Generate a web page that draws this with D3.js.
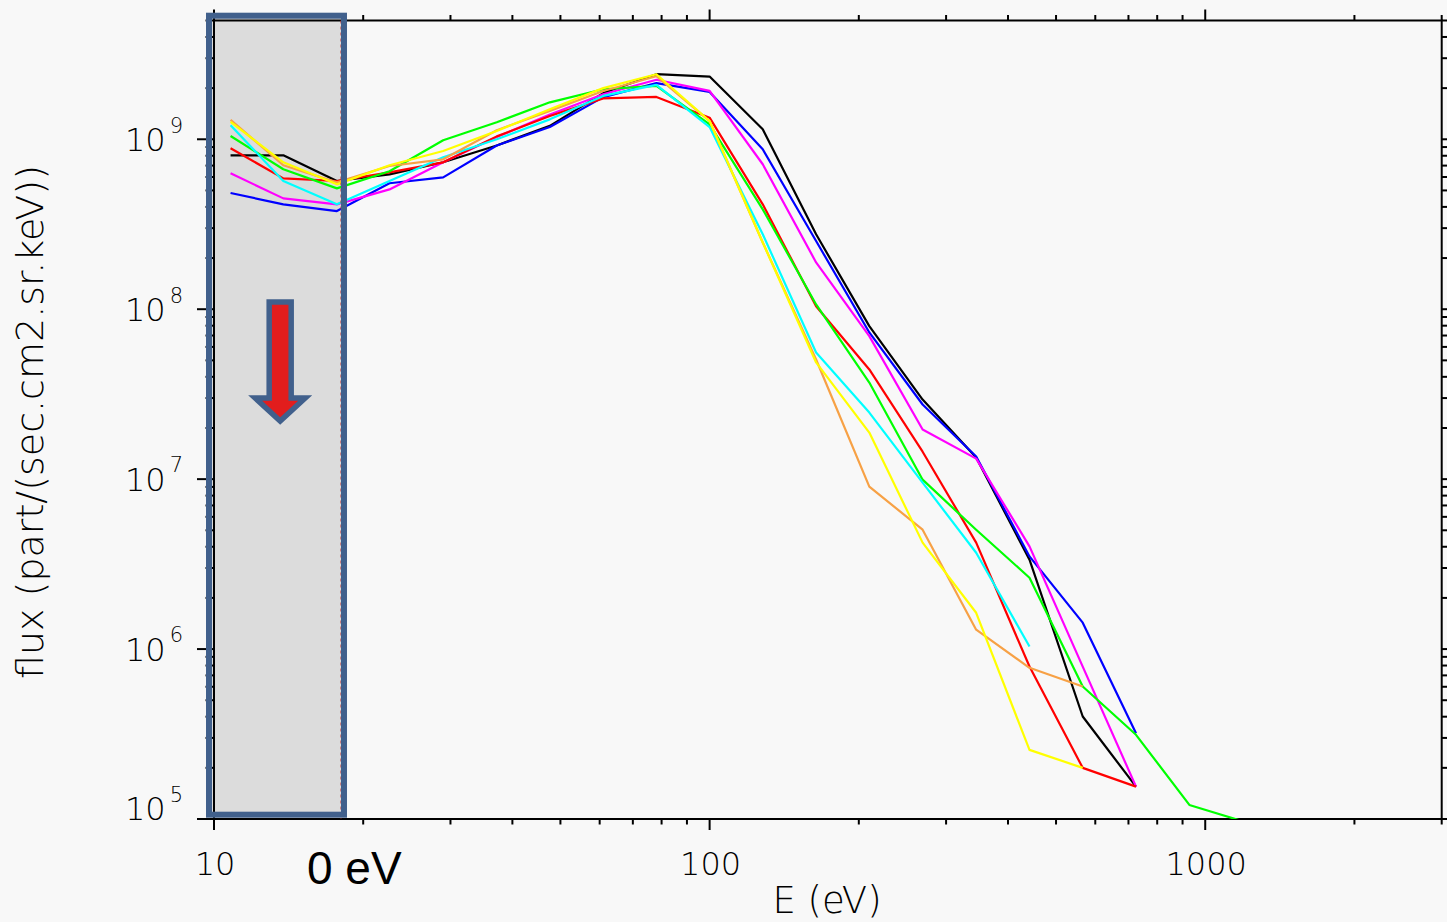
<!DOCTYPE html>
<html><head><meta charset="utf-8">
<script src="https://cdn.jsdelivr.net/npm/d3@7"></script>
<style>html,body{margin:0;padding:0;background:#f8f8f8;} svg{display:block;}</style>
</head><body><svg id="chart" width="1447" height="922"></svg>
<script>
// ---------------- data ----------------
const energies = [10.8, 13.8, 17.7, 22.6, 29.0, 37.2, 47.6, 61.0, 78.1, 100, 128, 164, 210, 269, 345, 442, 566, 725, 929, 1190];

const fluxBlack   = [8.05e8, 8.05e8, 5.68e8, 6.22e8, 7.32e8, 9.2e8, 1.2e9, 1.87e9, 2.415e9, 2.34e9, 1.145e9, 2.76e8, 7.95e7, 2.94e7, 1.34e7, 3.36e6, 4.01e5, 1.55e5];
const fluxBlue    = [4.83e8, 4.14e8, 3.78e8, 5.51e8, 5.97e8, 9.2e8, 1.18e9, 1.77e9, 2.14e9, 1.90e9, 8.73e8, 2.52e8, 7.30e7, 2.75e7, 1.36e7, 3.51e6, 1.43e6, 3.20e5];
const fluxMagenta = [6.31e8, 4.49e8, 4.14e8, 5.07e8, 7.32e8, 1.03e9, 1.40e9, 1.84e9, 2.24e9, 1.925e9, 7.13e8, 1.885e8, 6.94e7, 1.96e7, 1.32e7, 4.02e6, 7.88e5, 1.55e5];
const fluxRed     = [8.85e8, 5.89e8, 5.68e8, 6.39e8, 7.32e8, 1.04e9, 1.37e9, 1.74e9, 1.775e9, 1.34e9, 4.14e8, 1.04e8, 4.42e7, 1.45e7, 4.23e6, 7.89e5, 2.0e5, 1.55e5];
const fluxGreen   = [1.045e9, 6.66e8, 5.14e8, 6.48e8, 9.87e8, 1.26e9, 1.65e9, 1.97e9, 2.06e9, 1.225e9, 3.87e8, 1.067e8, 3.70e7, 9.93e6, 5.04e6, 2.63e6, 6.02e5, 3.13e5, 1.21e5, 9.7e4];
const fluxCyan    = [1.21e9, 5.68e8, 4.14e8, 5.68e8, 7.83e8, 1.0e9, 1.31e9, 1.80e9, 2.09e9, 1.18e9, 2.76e8, 5.56e7, 2.465e7, 9.54e6, 3.69e6, 1.035e6];
const fluxOrange  = [1.30e9, 7.03e8, 5.58e8, 6.96e8, 7.62e8, 1.13e9, 1.47e9, 1.925e9, 2.35e9, 1.28e9, 2.47e8, 5.06e7, 9.04e6, 5.04e6, 1.30e6, 7.76e5, 6.02e5];
const fluxYellow  = [1.265e9, 7.32e8, 5.43e8, 7.03e8, 8.53e8, 1.12e9, 1.50e9, 2.0e9, 2.415e9, 1.28e9, 2.47e8, 4.86e7, 1.88e7, 4.23e6, 1.635e6, 2.55e5, 2.0e5];

const seriesList   = [fluxBlack, fluxBlue, fluxMagenta, fluxRed, fluxGreen, fluxCyan, fluxOrange, fluxYellow];
const seriesColors = ["#000000", "#0000ff", "#ff00ff", "#ff0000", "#00ff00", "#00ffff", "#f7a145", "#ffff00"];

const xMajorTicks = [10, 100, 1000];
const xTickLabels = ["10", "100", "1000"];
const yExponents  = [5, 6, 7, 8, 9];
const xTitle = "E (eV)";
const yTitle = "flux (part/(sec.cm2.sr.keV))";
const boxLabel = "0 eV";
const boxEnergyEdge = 18.25;

// ---------------- layout ----------------
const svg = d3.select("#chart");
const L = 214, R = 1441.7, T = 20.5, B = 819;
const x = d3.scaleLog().domain([10, 3000]).range([L, R]);
const y = d3.scaleLog().domain([1e5, 5e9]).range([B, T]);
const font = "'DejaVu Sans', sans-serif";
const fw = 200;

svg.append("rect").attr("width", 1447).attr("height", 922).attr("fill", "#f8f8f8");

// grey box fill (behind lines)
const boxRight = x(boxEnergyEdge);
svg.append("rect").attr("x", L - 6).attr("y", T - 6).attr("width", boxRight - L + 6).attr("height", B - T + 4)
  .attr("fill", "#dcdcdc");

// minor tick values
const xMinor = [], yMinor = [];
[10, 100, 1000].forEach(d => { for (let m = 2; m <= 9; m++) { const v = d * m; if (v <= 3000) xMinor.push(v); } });
[1e5, 1e6, 1e7, 1e8, 1e9].forEach(d => { for (let m = 2; m <= 9; m++) { const v = d * m; if (v <= 5e9) yMinor.push(v); } });

const axG = svg.append("g").attr("stroke", "#000").attr("stroke-width", 2);
axG.append("rect").attr("x", L).attr("y", T).attr("width", R - L).attr("height", B - T).attr("fill", "none");
xMinor.forEach(v => {
  axG.append("line").attr("x1", x(v)).attr("x2", x(v)).attr("y1", B).attr("y2", B + 5.5);
  axG.append("line").attr("x1", x(v)).attr("x2", x(v)).attr("y1", T).attr("y2", T - 5.5);
});
xMajorTicks.forEach(v => {
  axG.append("line").attr("x1", x(v)).attr("x2", x(v)).attr("y1", B).attr("y2", B + 11);
  axG.append("line").attr("x1", x(v)).attr("x2", x(v)).attr("y1", T).attr("y2", T - 11);
});
yMinor.forEach(v => {
  axG.append("line").attr("y1", y(v)).attr("y2", y(v)).attr("x1", L).attr("x2", L - 8.5);
  axG.append("line").attr("y1", y(v)).attr("y2", y(v)).attr("x1", R).attr("x2", R + 8.5);
});
yExponents.forEach(k => {
  const v = Math.pow(10, k);
  axG.append("line").attr("y1", y(v)).attr("y2", y(v)).attr("x1", L).attr("x2", L - 17);
  axG.append("line").attr("y1", y(v)).attr("y2", y(v)).attr("x1", R).attr("x2", R + 17);
});

// x tick labels
xMajorTicks.forEach((v, i) => {
  svg.append("text").attr("x", x(v) + 1).attr("y", 875).attr("text-anchor", "middle")
    .attr("font-family", font).attr("font-weight", fw).attr("font-size", 32).attr("fill", "#000").text(xTickLabels[i]);
});
// y tick labels
yExponents.forEach(k => {
  const ty = Math.min(y(Math.pow(10, k)) + 11.7, 820);
  const t = svg.append("text").attr("x", 125).attr("y", ty)
    .attr("font-family", font).attr("font-weight", fw).attr("font-size", 32).attr("fill", "#000");
  t.append("tspan").text("10");
  t.append("tspan").attr("dx", 4).attr("dy", -18.4).attr("font-size", 21).text(String(k));
});

// titles
svg.append("text").attr("x", 827).attr("y", 913).attr("text-anchor", "middle")
  .attr("font-family", font).attr("font-weight", fw).attr("font-size", 37).attr("fill", "#000").text(xTitle);
svg.append("text").attr("transform", "translate(43,422) rotate(-90)").attr("text-anchor", "middle")
  .attr("font-family", font).attr("font-weight", fw).attr("font-size", 38).attr("fill", "#000").text(yTitle);

// clip
svg.append("clipPath").attr("id", "plotclip").append("rect")
  .attr("x", L).attr("y", T).attr("width", R - L).attr("height", B - T);

const line = d3.line().x((d, i) => x(energies[i])).y(d => y(d));
const linesG = svg.append("g").attr("clip-path", "url(#plotclip)");
seriesList.forEach((s, i) => {
  linesG.append("path").datum(s).attr("d", line).attr("fill", "none")
    .attr("stroke", seriesColors[i]).attr("stroke-width", 2.2).attr("stroke-linejoin", "round");
});

// box border + thin red dashed edge
svg.append("line").attr("x1", boxRight - 2.5).attr("x2", boxRight - 2.5).attr("y1", T).attr("y2", B)
  .attr("stroke", "#c03030").attr("stroke-width", 1).attr("stroke-dasharray", "3,3");
svg.append("rect").attr("x", 209).attr("y", 15.7).attr("width", boxRight + 0.5 - 209).attr("height", 799)
  .attr("fill", "none").attr("stroke", "#41608c").attr("stroke-width", 6);

// arrow
const ax = x(13.6);
const arrowPts = [[ax - 11, 302], [ax + 11, 302], [ax + 11, 398], [ax + 25, 398], [ax, 421], [ax - 25, 398], [ax - 11, 398]];
svg.append("polygon").attr("points", arrowPts.map(p => p.join(",")).join(" "))
  .attr("fill", "#e21d1d").attr("stroke", "#41608c").attr("stroke-width", 5.5).attr("stroke-linejoin", "miter");

// "0 eV"
svg.append("text").attr("x", 307).attr("y", 884).attr("font-family", "'Liberation Sans', Arial, sans-serif")
  .attr("font-size", 46).attr("fill", "#000").text(boxLabel);
</script></body></html>
